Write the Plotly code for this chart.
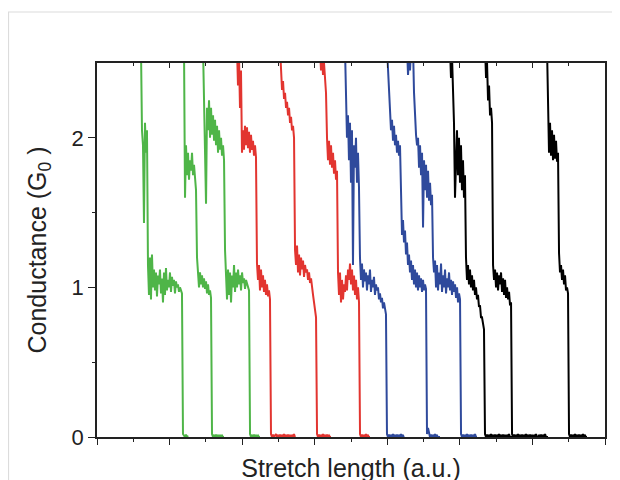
import plotly.graph_objects as go

# ---- data -------------------------------------------------------------
# Conductance traces (units of G0), sampled at a constant stretch step.
# Each trace: start position on the stretch axis (a.u.) and its samples.
STEP = 0.01378  # stretch increment between samples (a.u.)

green_starts = [0.606, 1.199, 1.461]
green_1 = [2.6, 2.05, 1.95, 1.43, 2.1, 1.9, 2.05,
           1.15, 0.95, 1.2, 0.92, 1.22, 1.0, 1.12, 0.98, 1.1, 0.94, 1.08, 1.02, 1.12, 0.96,
           1.06, 0.9, 1.1, 0.95, 1.13, 0.98, 1.05, 1.0, 1.1, 0.97, 1.07, 1.01, 1.05, 0.96,
           1.04, 1.0, 1.02, 0.97, 1.0, 0.98, 0.96,
           0.02, 0.01, 0.0, 0.015, 0.0, 0.01]
green_2 = [2.6, 1.6, 1.95, 1.75, 1.9, 1.72, 1.85, 1.78, 1.9, 1.75, 1.82, 1.7, 1.65,
           1.2, 1.12, 1.0, 1.1, 1.02, 1.08, 1.0, 1.06, 0.99, 1.04, 0.96, 1.02, 0.95, 0.98, 0.93,
           0.02, 0.0, 0.01, 0.0, 0.015, 0.0, 0.01, 0.0, 0.01, 0.0, 0.01, 0.0, 0.0]
green_3 = [2.6, 2.2, 2.1, 1.56, 2.2, 2.05, 2.25, 2.0, 2.2, 2.02, 2.15, 1.98, 2.12, 1.95,
           2.08, 1.9, 2.05, 1.92, 2.0, 1.88, 1.95, 1.85, 1.25, 1.1,
           0.92, 1.12, 0.95, 1.1, 0.9, 1.08, 1.0, 1.15, 0.97, 1.1, 1.0, 1.12, 1.02, 1.08,
           0.98, 1.1, 1.03, 1.06, 0.99, 1.05, 1.02, 1.0, 0.98,
           0.02, 0.0, 0.01, 0.0, 0.015, 0.0, 0.01, 0.0, 0.01, 0.0, 0.0]

red_starts = [1.929, 2.522, 3.073]
red_1 = [2.6, 2.35, 2.55, 2.2, 2.45, 1.9, 2.05, 1.92, 2.08, 1.95, 2.07, 1.93, 2.04, 1.9,
         2.02, 1.92, 1.98, 1.88, 1.95, 1.87,
         1.16, 1.05, 1.15, 0.98, 1.12, 1.0, 1.08, 0.97, 1.05, 0.95, 1.02, 0.94, 0.98, 0.92,
         0.02, 0.0, 0.015, 0.0, 0.01, 0.02, 0.0, 0.01, 0.0, 0.015, 0.0, 0.01, 0.0, 0.02,
         0.0, 0.01, 0.0, 0.015, 0.0, 0.01, 0.0, 0.01, 0.0, 0.02, 0.0]
red_2 = [2.6, 2.45, 2.32, 2.38, 2.26, 2.3, 2.2, 2.24, 2.15, 2.2, 2.1, 2.14, 2.05, 2.08, 2.0,
         1.25, 1.15, 1.28, 1.1, 1.22, 1.08, 1.2, 1.12, 1.18, 1.07, 1.15, 1.1, 1.12, 1.05,
         1.1, 1.03, 1.06, 0.98, 0.95, 0.9, 0.85, 0.8,
         0.02, 0.0, 0.015, 0.0, 0.01, 0.0, 0.02, 0.0, 0.01, 0.0, 0.015, 0.0, 0.01, 0.0, 0.0]
red_3 = [2.6, 2.45, 2.55, 2.42, 2.5, 2.4, 2.3, 2.0, 1.85, 1.98, 1.82, 1.95, 1.8, 1.9,
         1.76, 1.85, 1.72, 1.78, 1.1,
         0.95, 1.1, 0.9, 1.05, 0.92, 1.02, 0.97, 1.08, 0.98, 1.12, 1.05, 1.16, 1.02, 1.12,
         0.98, 1.08, 0.95, 1.05, 0.92, 1.0, 0.9,
         0.02, 0.0, 0.015, 0.0, 0.01, 0.0, 0.02, 0.0, 0.01, 0.0, 0.0]

blue_starts = [3.417, 3.996, 4.272]
blue_1 = [2.6, 2.2, 2.0, 2.15, 1.85, 2.1, 1.7, 2.05, 1.15, 1.95, 1.8, 2.0, 1.7, 1.9, 1.67,
          1.2, 1.05, 1.16, 1.0, 1.12, 1.04, 1.1, 0.98, 1.08, 1.02, 1.12, 0.97, 1.05, 1.0,
          1.07, 0.95, 1.02, 0.98, 1.0, 0.92, 0.96, 0.9, 0.93, 0.86, 0.9, 0.85, 0.82,
          0.02, 0.0, 0.015, 0.0, 0.01, 0.0, 0.02, 0.0, 0.01, 0.0, 0.015, 0.0, 0.01, 0.0,
          0.02, 0.0, 0.01, 0.0]
blue_2 = [2.6, 2.45, 2.3, 2.15, 2.05, 2.12, 1.98, 2.08, 1.95, 2.02, 1.9, 1.98, 1.88, 1.95,
          1.5, 1.35, 1.45, 1.3, 1.38, 1.22, 1.3, 1.15, 1.22, 1.1, 1.18, 1.05, 1.15, 1.02,
          1.12, 1.0, 1.1, 0.98, 1.08, 1.0, 1.06, 0.97, 1.05, 0.98, 1.02, 0.99,
          0.02, 0.06, 0.03, 0.0, 0.015, 0.0, 0.01, 0.0, 0.02, 0.0, 0.01, 0.0, 0.0, 0.0]
blue_3 = [2.6, 2.42, 2.55, 2.45, 2.6, 2.6, 2.6, 2.3, 2.1, 2.02, 1.95, 2.0, 1.8, 1.95, 1.75,
          1.9, 1.4, 1.85, 1.65, 1.82, 1.6, 1.78, 1.58, 1.7, 1.55, 1.62, 1.2,
          1.1, 1.18, 1.0, 1.15, 0.98, 1.1, 1.02, 1.16, 0.97, 1.08, 1.0, 1.12, 0.96, 1.06,
          1.0, 1.1, 0.98, 1.05, 0.95, 1.04, 0.97, 1.02, 0.93, 1.0, 0.9, 0.96, 0.92,
          0.02, 0.0, 0.015, 0.0, 0.01, 0.0, 0.02, 0.0, 0.01, 0.0, 0.015, 0.0, 0.01, 0.0,
          0.02, 0.0, 0.0]

black_starts = [4.864, 5.347, 6.201]
black_1 = [2.6, 2.4, 2.55, 2.35, 2.1, 1.6, 1.9, 2.05, 1.75, 2.0, 1.7, 1.95, 1.65, 1.85,
           1.6, 1.75, 1.2, 1.05, 1.15, 1.02, 1.12, 1.0, 1.08, 0.98, 1.05, 0.95, 1.0, 0.92,
           0.95, 0.87, 0.88, 0.8, 0.8, 0.74, 0.72,
           0.02, 0.0, 0.015, 0.0, 0.01, 0.0, 0.02, 0.0, 0.01, 0.0, 0.015, 0.0, 0.01, 0.0,
           0.02, 0.0, 0.01, 0.0, 0.015, 0.0, 0.01, 0.0, 0.01, 0.0, 0.02, 0.0, 0.0, 0.0]
black_2 = [2.6, 2.4, 2.5, 2.25, 2.35, 2.15, 2.2, 2.1,
           1.15, 1.05, 1.12, 1.0, 1.1, 0.98, 1.08, 1.02, 1.1, 0.97, 1.06, 0.95, 1.05, 0.93,
           1.0, 0.92, 0.97, 0.88, 0.9,
           0.02, 0.0, 0.015, 0.0, 0.01, 0.0, 0.02, 0.0, 0.01, 0.0, 0.015, 0.0, 0.01, 0.0,
           0.02, 0.0, 0.01, 0.0, 0.015, 0.0, 0.01, 0.0, 0.01, 0.0, 0.02, 0.0, 0.0, 0.01,
           0.0, 0.015, 0.0, 0.01, 0.0, 0.02, 0.0, 0.0, 0.0]
black_3 = [2.6, 2.05, 1.9, 2.1, 1.88, 2.05, 1.85, 2.02, 1.86, 1.98, 1.84, 1.9,
           1.23, 1.1, 1.15, 1.05, 1.12, 1.02, 1.08, 0.98, 1.0, 0.96,
           0.02, 0.0, 0.015, 0.0, 0.01, 0.0, 0.02, 0.0, 0.01, 0.0, 0.015, 0.0, 0.01, 0.0,
           0.02, 0.0, 0.01, 0.0, 0.0]

series = [
    ("#4fb548", green_starts, [green_1, green_2, green_3]),
    ("#e23530", red_starts, [red_1, red_2, red_3]),
    ("#2f4a9c", blue_starts, [blue_1, blue_2, blue_3]),
    ("#000000", black_starts, [black_1, black_2, black_3]),
]

y_ticks = [0, 1, 2]

# ---- figure -----------------------------------------------------------
fig = go.Figure()
for color, starts, traces in series:
    for x0, ys in zip(starts, traces):
        xs = [x0 + STEP * i for i in range(len(ys))]
        fig.add_trace(go.Scatter(x=xs, y=ys, mode="lines",
                                 line=dict(color=color, width=2.0),
                                 showlegend=False, hoverinfo="skip"))

# helper trace so the top (inward-tick) axis is drawn
fig.add_trace(go.Scatter(x=[None], y=[None], xaxis="x2", showlegend=False,
                         hoverinfo="skip"))

font = "Liberation Sans, Arial, sans-serif"
fig.update_layout(
    width=620, height=480,
    margin=dict(l=89, r=23, t=55, b=51),
    paper_bgcolor="white", plot_bgcolor="white",
    font=dict(family=font, color="#222"),
    xaxis=dict(range=[0, 7], dtick=1, tick0=0, showgrid=False, zeroline=False,
               showline=True, linecolor="#222", linewidth=1.5, mirror=True,
               ticks="outside", ticklen=6, tickwidth=1.3, tickcolor="#222",
               minor=dict(dtick=0.5, ticks="outside", ticklen=3, tickwidth=1.3,
                          tickcolor="#222", showgrid=False),
               showticklabels=False,
               title=dict(text="Stretch length (a.u.)", font=dict(size=25),
                          standoff=16)),
    xaxis2=dict(range=[0, 7], dtick=1, tick0=0, overlaying="x", side="top",
                showgrid=False, zeroline=False, showline=False,
                ticks="inside", ticklen=5, tickwidth=1.3, tickcolor="#222",
                minor=dict(dtick=0.5, ticks="inside", ticklen=3, tickwidth=1.3,
                           tickcolor="#222", showgrid=False),
                showticklabels=False),
    yaxis=dict(range=[0, 2.5], tickvals=y_ticks, ticktext=[str(v) for v in y_ticks],
               showgrid=False, zeroline=False,
               showline=True, linecolor="#222", linewidth=1.5, mirror=True,
               ticks="outside", ticklen=7, tickwidth=1.3, tickcolor="#222",
               minor=dict(tickvals=[0.5, 1.5], ticks="outside", ticklen=3,
                          tickwidth=1.3, tickcolor="#222", showgrid=False),
               tickfont=dict(size=22),
               title=dict(text="Conductance (G<sub>0</sub> )", font=dict(size=25),
                          standoff=18)),
    shapes=[dict(type="path", xref="paper", yref="paper",
                 path="M -0.1742,-0.3 L -0.1742,1.1364 L 1.3,1.1364",
                 line=dict(color="#dcdcdc", width=1.2), layer="below")],
)

fig.write_html("out.html",
               post_script="document.documentElement.style.overflow='hidden';"
                           "document.body.style.overflow='hidden';")
